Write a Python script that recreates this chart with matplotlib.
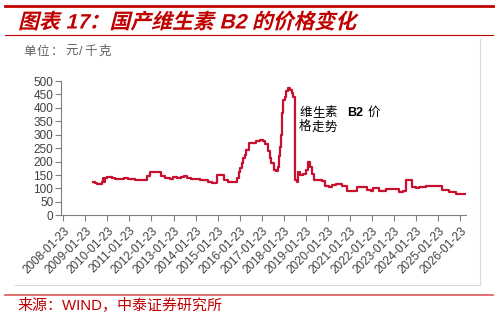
import matplotlib
matplotlib.use("Agg")
import matplotlib.pyplot as plt
import pandas as pd
from matplotlib.lines import Line2D
from matplotlib.textpath import TextPath, text_to_path
from matplotlib.patches import PathPatch
from matplotlib.font_manager import FontProperties
from matplotlib.transforms import Affine2D

FAMILY = ['Liberation Sans', 'Noto Sans CJK SC', 'DejaVu Sans']
plt.rcParams['font.family'] = FAMILY

# 维生素B2 价格（元/千克），按图读取，时间为小数年
years = [2009.42, 2009.50, 2009.59, 2009.72, 2009.82, 2009.86, 2009.91, 2009.95,
         2010.04, 2010.27, 2010.40, 2010.63, 2010.81, 2010.99, 2011.30, 2011.52,
         2011.71, 2011.84, 2011.99, 2012.20, 2012.35, 2012.48, 2012.66, 2012.89,
         2013.03, 2013.22, 2013.40, 2013.54, 2013.68, 2013.86, 2014.27, 2014.45,
         2014.63, 2014.81, 2014.99, 2015.04, 2015.26, 2015.35, 2015.53, 2015.80,
         2015.94, 2016.03, 2016.07, 2016.16, 2016.21, 2016.30, 2016.34, 2016.48,
         2016.62, 2016.80, 2016.98, 2017.11, 2017.20, 2017.34, 2017.43, 2017.48,
         2017.61, 2017.70, 2017.79, 2017.84, 2017.88, 2017.93, 2017.97, 2018.02,
         2018.11, 2018.15, 2018.24, 2018.33, 2018.42, 2018.46, 2018.55, 2018.64,
         2018.69, 2018.78, 2018.91, 2019.05, 2019.14, 2019.23, 2019.32, 2019.45,
         2019.77, 2019.91, 2020.13, 2020.26, 2020.44, 2020.71, 2020.94, 2021.26,
         2021.39, 2021.71, 2021.84, 2022.02, 2022.11, 2022.25, 2022.39, 2022.70,
         2022.98, 2023.29, 2023.47, 2023.56, 2023.60, 2023.78, 2023.87, 2024.05,
         2024.19, 2024.51, 2025.00, 2025.23, 2025.54, 2025.86, 2026.26]
prices = [125, 120, 115, 115, 125, 138, 125, 140,
          142, 140, 136, 135, 138, 135, 133, 130,
          133, 145, 160, 160, 160, 148, 138, 136,
          143, 140, 144, 145, 140, 135, 133, 130,
          125, 120, 120, 150, 150, 130, 125, 125,
          140, 160, 176, 195, 214, 225, 244, 270,
          268, 275, 280, 275, 265, 240, 215, 195,
          170, 165, 180, 220, 255, 300, 380, 430,
          440, 461, 474, 465, 455, 440, 130, 125,
          160, 150, 155, 170, 200, 180, 155, 130,
          127, 110, 107, 112, 115, 110, 92, 92,
          107, 107, 95, 92, 102, 100, 90, 97,
          97, 87, 92, 92, 130, 133, 107, 100,
          107, 110, 110, 95, 85, 80, 80]

tick_labels = [f"{y}-01-23" for y in range(2008, 2027)]
y_ticks = [0, 50, 100, 150, 200, 250, 300, 350, 400, 450, 500]

RED = '#C00000'
LINE = '#C8102E'
W, H = 498, 318


def to_date(y):
    base = pd.Timestamp(int(y), 1, 1)
    return base + pd.Timedelta(days=(y - int(y)) * 365.25)


dates = [to_date(y) for y in years]
tick_dates = pd.to_datetime(tick_labels)

fig = plt.figure(figsize=(W / 100, H / 100), dpi=100)
ax = fig.add_axes([61 / W, 1 - 215.3 / H, (466 - 61) / W, (215.3 - 81) / H])

ax.plot(dates, prices, color=LINE, lw=1.6, drawstyle='steps-post')

ax.set_ylim(0, 500)
ax.set_yticks(y_ticks)
ax.set_xlim(to_date(2007.96), to_date(2026.32))
ax.set_xticks(tick_dates)
ax.set_xticklabels(tick_labels, rotation=45, ha='right', va='top',
                   rotation_mode='anchor')
ax.tick_params(axis='both', colors='#808080', labelcolor='#404040',
               labelsize=8.5, length=4, width=0.8, direction='out')
ax.tick_params(axis='y', pad=1.5)
ax.tick_params(axis='x', pad=3)
for s in ['top', 'right']:
    ax.spines[s].set_visible(False)
for s in ['left', 'bottom']:
    ax.spines[s].set_color('#808080')
    ax.spines[s].set_linewidth(0.8)


def spaced(x, y, s, size, gap, **kw):
    # 逐字放置，字间加 gap 像素
    fp = FontProperties(family=FAMILY, size=size, weight=kw.get('weight', 'normal'))
    for ch in s:
        fig.text(x / W, 1 - y / H, ch, fontsize=size, va='center', ha='left', **kw)
        w, _, _ = text_to_path.get_text_width_height_descent(ch, fp, False)
        x += w * 100 / 72 + gap
    return x


# 图中标注
spaced(299, 112.7, '维生素', 9, 0.4, color='black')
fig.text(347 / W, 1 - 112.7 / H, 'B2', fontsize=9, color='black',
         weight='bold', va='center', ha='left')
fig.text(368 / W, 1 - 112.7 / H, '价', fontsize=9, color='black',
         va='center', ha='left')
spaced(299, 127.3, '格走势', 9, 0.4, color='black')


def fline(x0, x1, y0, y1, **kw):
    fig.add_artist(Line2D([x0 / W, x1 / W], [1 - y0 / H, 1 - y1 / H],
                          transform=fig.transFigure, **kw))


# 红色标题线与灰色边框
fline(5, 493, 6, 6, color=RED, lw=2.0)
fline(5, 493, 35, 35, color=RED, lw=0.8)
fline(15, 480, 285, 285, color='#D9D9D9', lw=0.8)
fline(480, 480, 39, 285, color='#D9D9D9', lw=0.8)
fline(5, 493, 294.5, 294.5, color='#E06666', lw=1.3)

# 斜体标题
fp = FontProperties(family=FAMILY[:2], weight='bold')
tp = TextPath((0, 0), '图表 17：国产维生素 B2 的价格变化', size=15, prop=fp)
tr = Affine2D().skew_deg(14, 0).scale(1 / 72).translate(18 / 100, (H - 28.5) / 100) \
    + fig.dpi_scale_trans
fig.add_artist(PathPatch(tp, transform=tr, color=RED, lw=0))

spaced(23, 52, '单位：元/千克', 9, 1.5, color='#606060')
fig.text(17 / W, 1 - 305 / H, '来源：WIND，中泰证券研究所', fontsize=10.8,
         color=RED, va='center', ha='left')

fig.savefig('out.png', dpi=100)
